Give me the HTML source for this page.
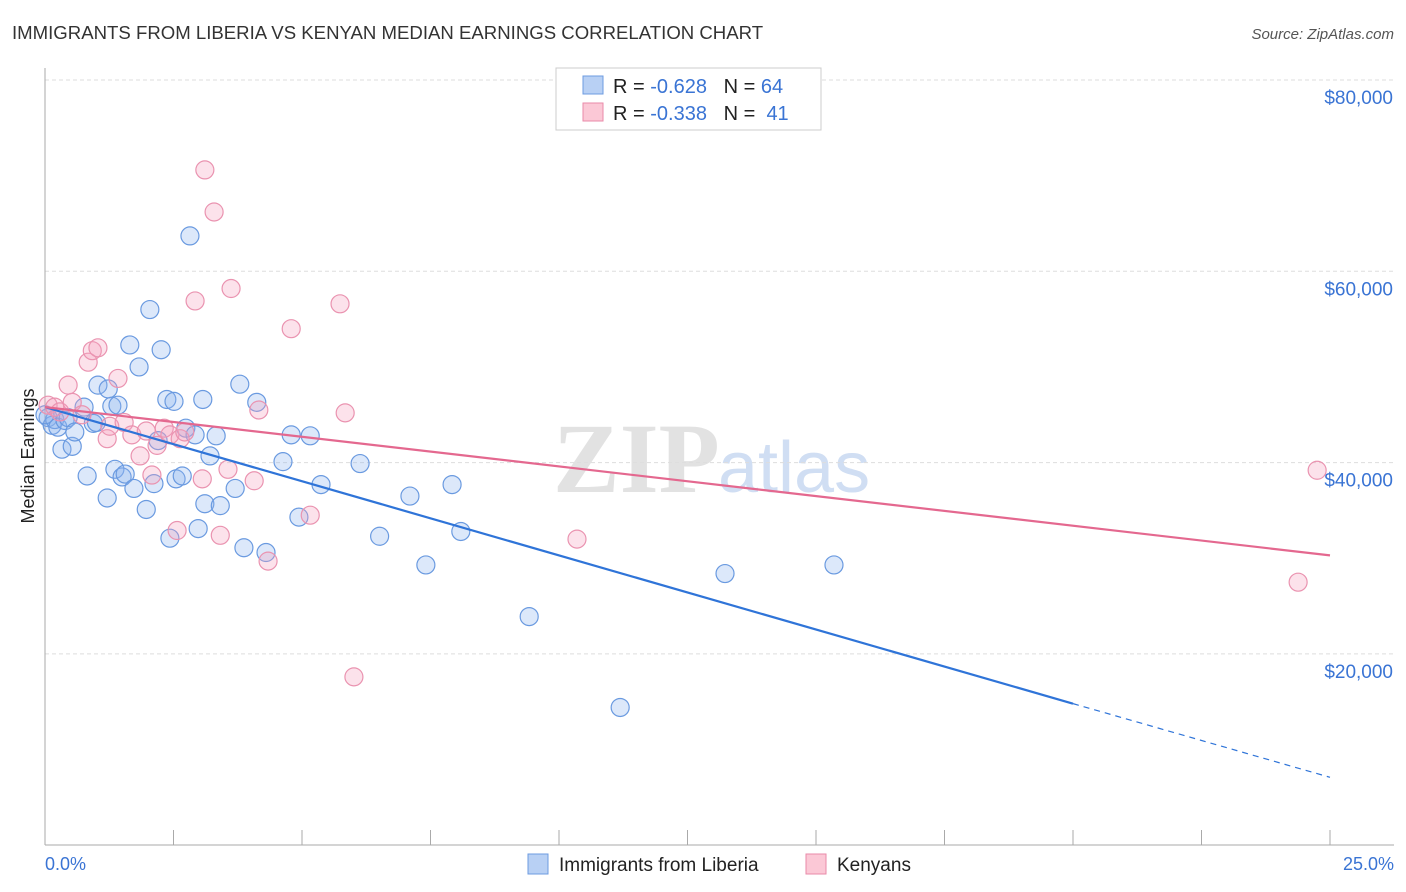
<!DOCTYPE html>
<html><head><meta charset="utf-8"><style>
body{margin:0;background:#fff;font-family:"Liberation Sans",sans-serif;}
</style></head><body>
<svg width="1406" height="892" style="display:block">
<text x="12" y="39" font-size="18.6" fill="#333">IMMIGRANTS FROM LIBERIA VS KENYAN MEDIAN EARNINGS CORRELATION CHART</text>
<text x="1394" y="39" font-size="15" fill="#555" text-anchor="end" font-style="italic">Source: ZipAtlas.com</text>
<text x="553" y="492" font-size="100" fill="#e2e2e2" font-family="Liberation Serif,serif" font-weight="bold">ZIP</text>
<text x="718" y="492" font-size="72" fill="#d0def3">atlas</text>
<g id="grid"></g>
<g id="axes"></g>
<text transform="translate(34,456) rotate(-90)" font-size="18" fill="#222" text-anchor="middle">Median Earnings</text>
<text x="45" y="870" font-size="18" fill="#3a74d4">0.0%</text>
<text x="1394" y="870" font-size="18" fill="#3a74d4" text-anchor="end">25.0%</text>
<g id="pts"></g>
<g id="lines"></g>
<g>
<rect x="556" y="68" width="265" height="62" fill="#fff" stroke="#ccc"/>
<rect x="583" y="76" width="20" height="18" fill="#b8d0f4" stroke="#6d9be0"/>
<rect x="583" y="103" width="20" height="18" fill="#fbc8d6" stroke="#e98aa8"/>
<text x="613" y="93" font-size="20" fill="#222">R = <tspan fill="#3a74d4">-0.628</tspan>&#160;&#160;&#160;N = <tspan fill="#3a74d4">64</tspan></text>
<text x="613" y="120" font-size="20" fill="#222">R = <tspan fill="#3a74d4">-0.338</tspan>&#160;&#160;&#160;N = &#160;<tspan fill="#3a74d4">41</tspan></text>
</g>
<g>
<rect x="528" y="854" width="20" height="20" fill="#b8d0f4" stroke="#6d9be0"/>
<text x="559" y="871" font-size="19" fill="#222">Immigrants from Liberia</text>
<rect x="806" y="854" width="20" height="20" fill="#fbc8d6" stroke="#e98aa8"/>
<text x="837" y="871" font-size="19" fill="#222">Kenyans</text>
</g>
</svg>
<script>
const yTicks=[20000,40000,60000,80000];
const yTickLabels=["$20,000","$40,000","$60,000","$80,000"];
const xTicks=[0,2.5,5,7.5,10,12.5,15,17.5,20,22.5,25];
const liberiaX=[0.06,0.14,0.19,0.25,0.33,0.39,0.45,0.53,0.58,0.76,0.82,0.94,1.0,1.03,1.21,1.23,1.3,1.36,1.42,1.5,1.56,1.65,1.73,1.83,1.97,2.04,2.12,2.2,2.26,2.37,2.43,2.51,2.55,2.67,2.74,2.82,2.92,2.98,3.07,3.11,3.21,3.33,3.41,3.7,3.79,3.87,4.12,4.3,4.63,4.79,4.94,5.16,5.37,6.13,6.51,7.1,7.41,7.92,8.09,9.42,11.19,13.23,15.35,0.0];
const liberiaY=[44700,43900,44500,43700,41400,44400,44700,41700,43200,45800,38600,44100,44200,48100,36300,47700,45900,39300,46000,38500,38800,52300,37300,50000,35100,56000,37800,42300,51800,46600,32100,46400,38300,38600,43600,63700,42900,33100,46600,35700,40700,42800,35500,37300,48200,31100,46300,30600,40100,42900,34300,42800,37700,39900,32300,36500,29300,37700,32800,23900,14400,28400,29300,45000];
const kenyaX=[0.06,0.19,0.29,0.45,0.53,0.72,0.84,0.92,1.03,1.21,1.26,1.42,1.54,1.69,1.85,1.97,2.08,2.18,2.32,2.43,2.57,2.63,2.72,2.92,3.06,3.11,3.29,3.41,3.56,3.62,4.07,4.16,4.34,4.79,5.16,5.74,5.84,6.01,10.35,24.38,24.75];
const kenyaY=[46000,45800,45300,48100,46300,45000,50500,51700,52000,42500,43800,48800,44200,42900,40700,43300,38700,41800,43600,42900,32900,42500,43200,56900,38300,70600,66200,32400,39300,58200,38100,45500,29700,54000,34500,56600,45200,17600,32000,27500,39200];
const liberiaTrend=[[0,45800],[20,14800]];
const liberiaDash=[[20,14800],[25,7100]];
const kenyaTrend=[[0,45800],[25,30300]];
const NS="http://www.w3.org/2000/svg";
const xs=p=>45+p*51.4;
const ys=v=>80+(80000-v)/20000*191.3;
function mk(t,a,parent){const e=document.createElementNS(NS,t);for(const k in a)e.setAttribute(k,a[k]);document.getElementById(parent).appendChild(e);return e;}
yTicks.forEach((v,i)=>{
 const l=mk('line',{x1:45,x2:1394,y1:ys(v),y2:ys(v),stroke:'#ddd','stroke-dasharray':'4,3'},'grid');
 
 
 const t=mk('text',{x:1393,y:ys(v)+24,'font-size':19,fill:'#3a74d4','text-anchor':'end'},'grid');
 t.textContent=yTickLabels[i];
 
 
});
const ax=mk('line',{x1:45,x2:45,y1:68,y2:845,stroke:'#aaa'},'axes');


const bx=mk('line',{x1:45,x2:1394,y1:845,y2:845,stroke:'#aaa'},'axes');


xTicks.forEach(p=>{
 const t=mk('line',{x1:xs(p),x2:xs(p),y1:830,y2:845,stroke:'#aaa'},'axes');
 
 
});
liberiaX.forEach((p,i)=>{
 const c=mk('circle',{cx:xs(p),cy:ys(liberiaY[i]),r:9,fill:'rgba(140,180,240,0.3)',stroke:'#6a9ae0','stroke-width':1.2},'pts');
 
 
});
kenyaX.forEach((p,i)=>{
 const c=mk('circle',{cx:xs(p),cy:ys(kenyaY[i]),r:9,fill:'rgba(245,160,190,0.3)',stroke:'#ea93b0','stroke-width':1.2},'pts');
 
 
});
function ln(d,col,dash,name){
 const l=mk('line',{x1:xs(d[0][0]),y1:ys(d[0][1]),x2:xs(d[1][0]),y2:ys(d[1][1]),stroke:col,'stroke-width':dash?1.2:2.2},'lines');
 if(dash)l.setAttribute('stroke-dasharray','6,5');
 
 
}
ln(liberiaTrend,'#2f74d8',false,'trend-line-liberia');
ln(liberiaDash,'#2f74d8',true,'trend-line-liberia-extension');
ln(kenyaTrend,'#e4688f',false,'trend-line-kenyans');
</script>
</body></html>
